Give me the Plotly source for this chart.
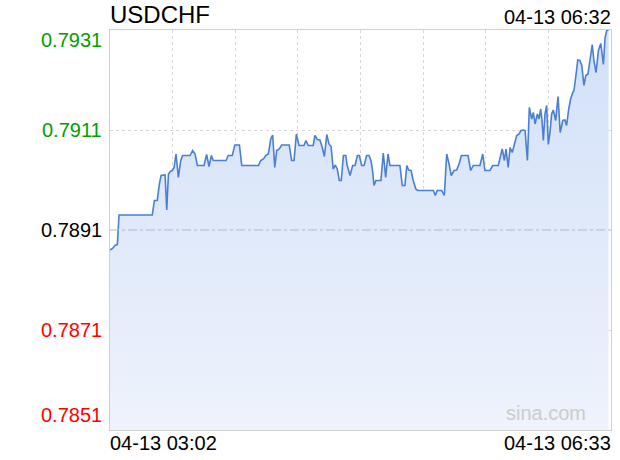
import plotly.graph_objects as go

# minutes since 04-13 03:02
minutes = [0, 1.1, 2.1, 3.1, 3.8, 17.8, 18.7, 19.9, 20.8, 21.5, 23.2, 23.9, 24.6, 25.3, 26.2, 27.0,
           27.8, 28.8, 29.8, 30.6, 33.7, 34.8, 35.8, 36.8, 39.6, 40.7, 41.7, 42.7, 43.5, 48.9, 49.8,
           51.5, 52.6, 54.5, 55.5, 62.5, 63.5, 64.6, 65.6, 66.7, 67.7, 68.5, 69.4, 70.2, 71.3, 72.3,
           75.5, 76.5, 77.5, 78.5, 79.6, 81.7, 82.5, 83.5, 85.6, 86.3, 87.3, 88.4, 89.4, 90.3, 91.3,
           92.2, 93.1, 94.0, 94.9, 95.7, 96.6, 97.4, 98.3, 99.3, 99.9, 101.1, 102.2, 103.2, 104.2,
           105.0, 106.0, 107.0, 108.1, 109.1, 109.9, 110.5, 111.2, 112.0, 114.1, 115.1, 116.1, 117.1,
           117.9, 122.1, 123.1, 124.2, 125.0, 125.8, 126.8, 127.7, 128.8, 129.6, 136.2, 137.0, 137.8,
           139.7, 140.8, 141.8, 142.8, 143.7, 144.9, 146.0, 147.0, 148.0, 150.8, 151.9, 153.0, 155.8,
           157.0, 157.9, 160.0, 161.2, 163.5, 164.5, 165.2, 166.1, 166.8, 167.7, 168.5, 169.4, 170.3,
           171.3, 172.3, 173.1, 174.1, 174.8, 175.8, 176.6, 177.6, 178.3, 179.0, 180.0, 180.7, 181.4,
           181.9, 182.5, 183.2, 183.9, 184.6, 185.3, 186.0, 186.7, 187.7, 188.7, 189.6, 190.7, 191.6,
           192.3, 193.2, 194.0, 194.9, 195.4, 196.3, 197.0, 197.9, 198.7, 199.6, 200.4, 201.3, 202.2,
           203.1, 203.8, 204.7, 205.7, 206.7, 207.8, 208.5, 209.2, 210.0]
prices = [0.78870, 0.78873, 0.78879, 0.78881, 0.78940, 0.78940, 0.78969, 0.78969, 0.79002, 0.79019,
          0.79020, 0.78950, 0.79021, 0.79027, 0.79029, 0.79035, 0.79062, 0.79015, 0.79049, 0.79059,
          0.79059, 0.79069, 0.79062, 0.79039, 0.79039, 0.79061, 0.79037, 0.79059, 0.79049, 0.79049,
          0.79059, 0.79059, 0.79080, 0.79080, 0.79039, 0.79039, 0.79049, 0.79052, 0.79059, 0.79062,
          0.79092, 0.79100, 0.79035, 0.79069, 0.79072, 0.79080, 0.79080, 0.79049, 0.79049, 0.79102,
          0.79079, 0.79079, 0.79089, 0.79079, 0.79079, 0.79099, 0.79091, 0.79090, 0.79075, 0.79057,
          0.79101, 0.79082, 0.79077, 0.79032, 0.79040, 0.79032, 0.79009, 0.79009, 0.79059, 0.79059,
          0.79039, 0.79019, 0.79039, 0.79039, 0.79059, 0.79059, 0.79039, 0.79039, 0.79059, 0.79059,
          0.79049, 0.79032, 0.78999, 0.79009, 0.79009, 0.79064, 0.79015, 0.79062, 0.79039, 0.79039,
          0.78999, 0.78999, 0.79039, 0.79030, 0.79029, 0.79009, 0.78992, 0.78989, 0.78989, 0.78979,
          0.78989, 0.78989, 0.78979, 0.79062, 0.79042, 0.79019, 0.79029, 0.79030, 0.79042, 0.79059,
          0.79059, 0.79029, 0.79039, 0.79039, 0.79062, 0.79029, 0.79029, 0.79039, 0.79039, 0.79059,
          0.79072, 0.79049, 0.79072, 0.79035, 0.79075, 0.79065, 0.79079, 0.79099, 0.79102, 0.79109,
          0.79110, 0.79109, 0.79049, 0.79155, 0.79132, 0.79145, 0.79122, 0.79142, 0.79132, 0.79152,
          0.79132, 0.79089, 0.79142, 0.79159, 0.79081, 0.79105, 0.79142, 0.79150, 0.79129, 0.79177,
          0.79105, 0.79129, 0.79130, 0.79119, 0.79152, 0.79172, 0.79185, 0.79189, 0.79222, 0.79250,
          0.79249, 0.79239, 0.79199, 0.79219, 0.79222, 0.79252, 0.79281, 0.79249, 0.79225, 0.79269,
          0.79283, 0.79241, 0.79295, 0.79309, 0.79310]

title = "USDCHF"
current_time = "04-13 06:32"
start_label = "04-13 03:02"
end_label = "04-13 06:33"
total_minutes = 211
prev_close = 0.7891
y_labels = [0.7931, 0.7911, 0.7891, 0.7871, 0.7851]
y_min, y_max = 0.7851, 0.7931

FONT = "Liberation Sans, Arial, sans-serif"

fig = go.Figure()
fig.add_trace(go.Scatter(
    x=minutes, y=prices, mode="lines",
    line=dict(color="#4a7fd2", width=1.6),
    fill="tozeroy",
    fillgradient=dict(type="vertical", start=y_min, stop=y_max,
                      colorscale=[[0, "#eef3fc"], [1, "#d2e0f8"]]),
    hoverinfo="skip", showlegend=False,
))

fig.add_shape(type="line", xref="paper", x0=0, x1=1, yref="y", y0=prev_close, y1=prev_close,
              line=dict(color="#b4b8c8", width=1, dash="dashdot"), layer="above")

annotations = []
for v in y_labels:
    if v > prev_close + 1e-9:
        col = "#00a000"
    elif v < prev_close - 1e-9:
        col = "#ff0000"
    else:
        col = "#000000"
    yshift = 0
    if v == y_max:
        yshift = -10
    elif v == y_min:
        yshift = 15
    annotations.append(dict(x=0, xref="paper", xanchor="right", xshift=-6, y=v, yref="y",
                            yanchor="middle", yshift=yshift, text=f"{v:.4f}", showarrow=False,
                            font=dict(family=FONT, size=20, color=col)))

annotations += [
    dict(x=0, xref="paper", xanchor="left", y=1, yref="paper", yanchor="bottom", yshift=0,
         xshift=-2, text=title, showarrow=False, font=dict(family=FONT, size=24, color="#000")),
    dict(x=1, xref="paper", xanchor="right", y=1, yref="paper", yanchor="bottom", yshift=0,
         xshift=2, text=current_time, showarrow=False, font=dict(family=FONT, size=20, color="#000")),
    dict(x=0, xref="paper", xanchor="left", y=0, yref="paper", yanchor="top", yshift=0,
         xshift=-2, text=start_label, showarrow=False, font=dict(family=FONT, size=20, color="#000")),
    dict(x=1, xref="paper", xanchor="right", y=0, yref="paper", yanchor="top", yshift=0,
         xshift=2, text=end_label, showarrow=False, font=dict(family=FONT, size=20, color="#000")),
    dict(x=0.955, xref="paper", xanchor="right", y=0, yref="paper", yanchor="bottom", yshift=4,
         text="sina.com", showarrow=False, font=dict(family=FONT, size=20, color="#cccccc")),
]

fig.update_layout(
    width=620, height=460,
    margin=dict(l=110, r=9, t=30, b=30),
    paper_bgcolor="white", plot_bgcolor="white",
    annotations=annotations,
    xaxis=dict(range=[0, total_minutes], tick0=0, dtick=total_minutes / 8,
               showgrid=True, gridcolor="#d8d8d8", griddash="dot", gridwidth=1,
               showticklabels=False, ticks="", zeroline=False,
               showline=True, linecolor="#d0d0d0", linewidth=1, mirror=True),
    yaxis=dict(range=[y_min, y_max], tickvals=[0.7871, 0.7911],
               showgrid=True, gridcolor="#d8d8d8", griddash="dot", gridwidth=1,
               showticklabels=False, ticks="", zeroline=False,
               showline=True, linecolor="#d0d0d0", linewidth=1, mirror=True),
)

fig.write_html("out.html", config={"displayModeBar": False},
               post_script="document.body.style.margin='0';document.body.style.overflow='hidden';")
